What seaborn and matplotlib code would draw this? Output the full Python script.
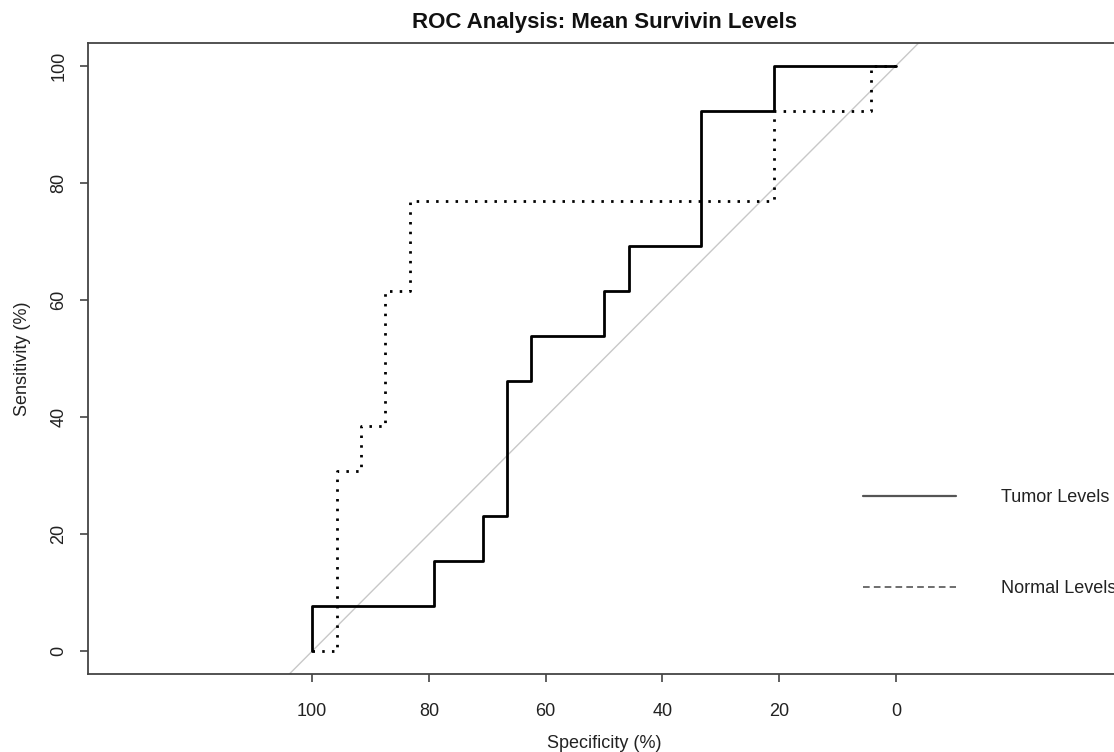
import numpy as np
import pandas as pd
import seaborn as sns
import matplotlib.pyplot as plt
from matplotlib.lines import Line2D

# ---------- DATA (ROC corner points) ----------
tumor_spec = [100, 100, 79.2, 79.2, 70.8, 70.8, 66.7, 66.7, 62.5, 62.5, 50, 50,
              45.8, 45.8, 33.3, 33.3, 20.8, 20.8, 0]
tumor_sens = [0, 7.7, 7.7, 15.4, 15.4, 23.1, 23.1, 46.2, 46.2, 53.8, 53.8, 61.5,
              61.5, 69.2, 69.2, 92.3, 92.3, 100, 100]

normal_spec = [100, 95.8, 95.8, 91.7, 91.7, 87.5, 87.5, 83.3, 83.3, 20.8, 20.8,
               4.2, 4.2, 0]
normal_sens = [0, 0, 30.8, 30.8, 38.5, 38.5, 61.5, 61.5, 76.9, 76.9, 92.3, 92.3,
               100, 100]

tick_values = [0, 20, 40, 60, 80, 100]
legend_labels = ["Tumor Levels", "Normal Levels"]

# ---------- STYLE ----------
sns.set_style("white")
plt.rcParams['font.family'] = ['Liberation Sans', 'DejaVu Sans']
TEXT = "#222222"
AXC = "#444444"
FS = 13

fig = plt.figure(figsize=(11.14, 7.52), dpi=100)
ax = fig.add_axes([88 / 1114, 78 / 752, (1120 - 88) / 1114, (674 - 43) / 752])

# ---------- CURVES ----------
ax.axline((100, 0), (0, 100), color="#c8c8c8", lw=1.0, zorder=1)

tumor = pd.DataFrame({"spec": tumor_spec, "sens": tumor_sens})
normal = pd.DataFrame({"spec": normal_spec, "sens": normal_sens})

sns.lineplot(data=tumor, x="spec", y="sens", sort=False, estimator=None,
             color="black", lw=2.0, ax=ax, zorder=3)
sns.lineplot(data=normal, x="spec", y="sens", sort=False, estimator=None,
             color="black", lw=2.0, ax=ax, zorder=3,
             linestyle=(0, (0.9, 2.6)), dash_capstyle="butt")

# ---------- AXES ----------
ax.set_xlim(138.4, -38.4)
ax.set_ylim(-3.9, 103.9)
ax.set_xticks(tick_values)
ax.set_yticks(tick_values)
ax.set_xticklabels([str(v) for v in tick_values])
ax.set_yticklabels([str(v) for v in tick_values], rotation=90, va="center")
ax.tick_params(axis="both", direction="out", length=6, width=1.2, color=AXC,
               labelsize=FS, labelcolor=TEXT, left=True, bottom=True)
ax.tick_params(axis="x", pad=15)
ax.tick_params(axis="y", pad=9)
for side in ["left", "bottom", "top"]:
    ax.spines[side].set_color(AXC)
    ax.spines[side].set_linewidth(1.3)
ax.spines["right"].set_visible(False)

ax.set_xlabel("Specificity (%)", fontsize=FS, color=TEXT, labelpad=11)
ax.set_ylabel("Sensitivity (%)", fontsize=FS, color=TEXT, labelpad=14)
ax.set_title("ROC Analysis: Mean Survivin Levels", fontsize=16,
             fontweight="bold", color="#111111", pad=11)

# ---------- LEGEND ----------
handles = [Line2D([], [], color="#555555", lw=1.6),
           Line2D([], [], color="#555555", lw=1.2, linestyle=(0, (4, 2.5)))]
ax.legend(handles, legend_labels, loc="center left",
          bbox_to_anchor=(863 / 1114, (752 - 543) / 752),
          bbox_transform=fig.transFigure, frameon=False, fontsize=FS,
          handlelength=5.15, handletextpad=2.5, labelspacing=4.1,
          labelcolor=TEXT, borderaxespad=0, borderpad=0)

plt.savefig("out.png", dpi=100)
